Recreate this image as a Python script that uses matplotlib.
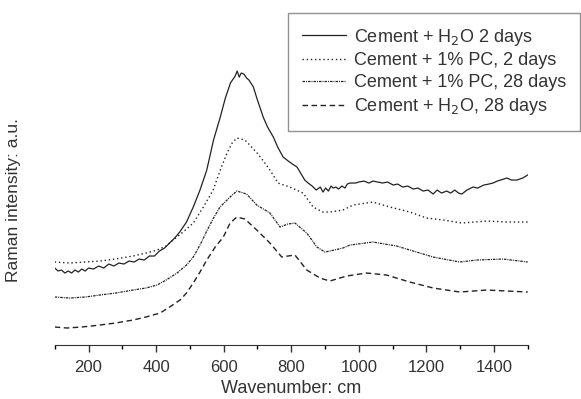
import matplotlib
matplotlib.use("Agg")
import matplotlib.pyplot as plt
import numpy as np

plt.rcParams['font.family'] = ['Liberation Sans', 'DejaVu Sans']

# values below are pixel heights (0 = x axis)
# Cement + H2O 2 days (solid)
wn_h2o_2 = [100, 110, 120, 130, 140, 150, 160, 170, 180, 190,
            200, 215, 230, 245, 260, 275, 290, 305, 320, 335,
            350, 365, 380, 395, 410, 425, 440, 455, 470, 490,
            510, 530, 550, 570, 590, 605, 620, 628, 634, 640,
            646, 652, 660, 668, 675, 688, 700, 717, 730, 747,
            760, 776, 795, 817, 826, 840, 850, 862, 874, 886,
            894, 902, 910, 918, 924, 932, 940, 950, 959, 966,
            974, 990, 1000, 1015, 1030, 1042, 1056, 1070, 1085, 1102,
            1115, 1130, 1145, 1161, 1175, 1190, 1205, 1220, 1232, 1245,
            1260, 1272, 1284, 1295, 1305, 1320, 1338, 1352, 1370, 1385,
            1397, 1410, 1420, 1438, 1452, 1468, 1485, 1500]
px_h2o_2 = [268, 271, 270, 273, 271, 273, 270, 272, 269, 271,
            268, 269, 266, 268, 264, 266, 263, 264, 261, 262,
            259, 260, 256, 256, 251, 248, 243, 238, 232, 222,
            207, 190, 170, 140, 117, 98, 83, 79, 76, 71,
            77, 73, 74, 78, 80, 87, 100, 117, 127, 137,
            147, 157, 162, 167, 172, 180, 183, 186, 190, 187,
            192, 188, 191, 186, 188, 187, 189, 186, 188, 184,
            183, 183, 182, 181, 183, 181, 182, 183, 182, 185,
            184, 187, 186, 189, 188, 191, 190, 194, 190, 193,
            191, 193, 190, 193, 194, 190, 187, 188, 185, 184,
            183, 181, 180, 178, 180, 180, 178, 175]

# Cement + 1% PC, 2 days (dotted)
wn_pc_2 = [100, 145, 190, 234, 280, 332, 370, 403, 430, 450, 480, 510, 540, 569, 590,
           610, 625, 639, 663, 680, 699, 720, 737, 761, 796, 835, 865, 894, 914, 953,
           983, 1042, 1092, 1151, 1201, 1250, 1305, 1378, 1440, 1500]
px_pc_2 = [262, 263, 262, 261, 259, 256, 253, 250, 246, 240, 232, 223, 207, 190, 170,
           153, 143, 138, 140, 146, 153, 162, 170, 183, 187, 193, 207, 212, 212, 210,
           205, 202, 207, 212, 218, 220, 223, 221, 222, 222]

# Cement + 1% PC, 28 days (fine dash-dot)
wn_pc_28 = [100, 145, 190, 234, 280, 332, 370, 403, 430, 462, 490, 510, 530, 550, 570,
            589, 619, 639, 668, 698, 737, 767, 790, 811, 846, 876, 900, 914, 953, 974,
            1042, 1112, 1171, 1220, 1299, 1348, 1427, 1500]
px_pc_28 = [297, 298, 297, 295, 293, 290, 288, 285, 280, 273, 265, 257, 245, 231, 218,
            207, 197, 191, 194, 205, 213, 227, 224, 223, 233, 247, 252, 251, 248, 245,
            242, 246, 252, 257, 262, 260, 259, 262]

# Cement + H2O, 28 days (dashed)
wn_h2o_28 = [100, 136, 180, 234, 280, 332, 370, 412, 440, 471, 490, 510, 530, 550, 575,
             599, 619, 639, 663, 698, 737, 772, 790, 811, 846, 885, 914, 964, 1023,
             1082, 1151, 1220, 1299, 1378, 1440, 1500]
px_h2o_28 = [327, 328, 327, 325, 323, 320, 317, 313, 307, 300, 293, 283, 272, 260, 247,
             237, 223, 217, 219, 230, 243, 257, 256, 255, 270, 278, 281, 276, 273,
             275, 282, 288, 292, 290, 291, 292]

labels = ['Cement + H$_2$O 2 days', 'Cement + 1% PC, 2 days',
          'Cement + 1% PC, 28 days', 'Cement + H$_2$O, 28 days']

fig = plt.figure(figsize=(5.81, 3.99), dpi=100)
ax = fig.add_axes([0.0942, 0.1353, 0.8141, 0.852])

c = '#222222'
ax.plot(wn_h2o_2, 345 - np.array(px_h2o_2), '-', color=c, lw=0.9, label=labels[0])
ax.plot(wn_pc_2, 345 - np.array(px_pc_2), color=c, lw=1.0, ls=(0, (1, 2)), label=labels[1])
ax.plot(wn_pc_28, 345 - np.array(px_pc_28), color=c, lw=0.9, ls=(0, (2, 0.8, 0.8, 0.8)), label=labels[2])
ax.plot(wn_h2o_28, 345 - np.array(px_h2o_28), color=c, lw=1.0, ls=(0, (4, 2.5)), label=labels[3])

ax.set_xlim(100, 1500)
ax.set_ylim(0, 340)
ax.set_xticks([200, 400, 600, 800, 1000, 1200, 1400])
ax.set_xticks(np.arange(100, 1501, 100), minor=True)
ax.tick_params(axis='x', which='major', length=5, width=1, labelsize=12, colors='#333333', pad=5.5)
ax.tick_params(axis='x', which='minor', length=3, width=1)
ax.set_yticks([])
for s in ['left', 'right', 'top']:
    ax.spines[s].set_visible(False)
ax.spines['bottom'].set_color('#333333')
ax.set_xlabel('Wavenumber: cm', fontsize=13, color='#333333', labelpad=4)
fig.text(0.024, 0.5, 'Raman intensity: a.u.', rotation=90, fontsize=12.5,
         color='#333333', ha='center', va='center')

leg = ax.legend(loc='upper left', bbox_to_anchor=(288 / 581, 1 - 13 / 399),
                bbox_transform=fig.transFigure, fontsize=13, frameon=True,
                fancybox=False, edgecolor='#777777', handlelength=2.44,
                borderpad=0.75, labelspacing=0.27, handletextpad=0.45,
                borderaxespad=0)
leg.get_frame().set_linewidth(1.0)
for t in leg.get_texts():
    t.set_color('#333333')

fig.savefig('out.png', dpi=100)
